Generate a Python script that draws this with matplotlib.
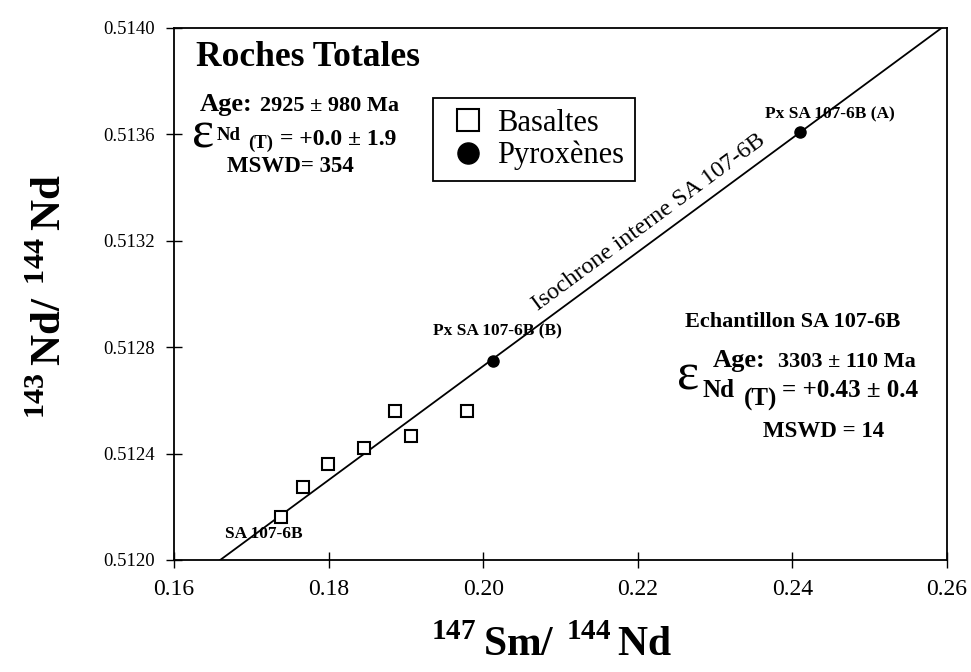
import numpy as np
import matplotlib
matplotlib.use("Agg")
import matplotlib.pyplot as plt

plt.rcParams['font.family'] = ['Liberation Serif', 'DejaVu Serif']
plt.rcParams['mathtext.fontset'] = 'custom'
plt.rcParams['mathtext.rm'] = 'Liberation Serif'
plt.rcParams['mathtext.bf'] = 'Liberation Serif:bold'

# Roches totales (basaltes) : 147Sm/144Nd et 143Nd/144Nd
basaltes_sm = [0.1738, 0.1767, 0.1799, 0.1846, 0.1886, 0.1907, 0.1979]
basaltes_nd = [0.512162, 0.512274, 0.512361, 0.512421, 0.512560, 0.512466, 0.512560]

# Pyroxènes séparés
pyroxenes_sm = [0.2013, 0.2410]
pyroxenes_nd = [0.512748, 0.513609]
pyroxenes_noms = ["Px SA 107-6B (B)", "Px SA 107-6B (A)"]

# Isochrone interne SA 107-6B (pente, ordonnée à l'origine)
iso_pente = 0.021431
iso_origine = 0.508443

x_ticks = [0.16, 0.18, 0.20, 0.22, 0.24, 0.26]
y_ticks = [0.5120, 0.5124, 0.5128, 0.5132, 0.5136, 0.5140]

W, H = 971, 672
fig = plt.figure(figsize=(W / 100, H / 100), dpi=100)
ax = fig.add_axes([174 / W, 112 / H, 773 / W, 532 / H])


def px(x, y):
    # position en pixels de l'image -> fraction des axes
    return (x - 174) / 773, (560 - y) / 532


ax.set_xlim(0.16, 0.26)
ax.set_ylim(0.5120, 0.5140)

xs = np.array([0.16, 0.26])
ax.plot(xs, iso_pente * xs + iso_origine, color='black', lw=1.3)

ax.plot(basaltes_sm, basaltes_nd, 's', color='black', mfc='white', ms=8, mew=1.5,
        label='Basaltes')
ax.plot(pyroxenes_sm, pyroxenes_nd, 'o', color='black', ms=8, label='Pyroxènes')

ax.set_xticks(x_ticks)
ax.set_xticklabels(['0.16', '0.18', '0.20', '0.22', '0.24', '0.26'], fontsize=17)
ax.set_yticks(y_ticks)
ax.set_yticklabels(['%.4f' % v for v in y_ticks], fontsize=13.5)
ax.tick_params(axis='both', direction='inout', length=12, width=1.0)
ax.tick_params(axis='x', pad=8)
ax.tick_params(axis='y', pad=8)
for s in ax.spines.values():
    s.set_linewidth(1.3)

# titres des axes
fig.text(552 / W, 1 - 656 / H, r'$^{\mathbf{147}}\,\mathbf{Sm/}\ ^{\mathbf{144}}\,\mathbf{Nd}$',
         fontsize=30, ha='center', va='baseline')
fig.text(61 / W, 1 - 297 / H, r'$^{\mathbf{143}}\,\mathbf{Nd/}\ ^{\mathbf{144}}\,\mathbf{Nd}$',
         fontsize=31, ha='center', va='baseline', rotation=90, rotation_mode='anchor')

leg = ax.legend(loc='upper left', bbox_to_anchor=px(433, 98), borderaxespad=0,
                fontsize=22, markerscale=1.9, handlelength=1.6, handletextpad=0.15,
                borderpad=0.35, labelspacing=0.1, fancybox=False, edgecolor='black',
                framealpha=1)
leg.get_frame().set_linewidth(1.3)

tr = ax.transAxes
b = dict(transform=tr, fontweight='bold', va='baseline')
# Roches totales
ax.text(*px(196, 66), 'Roches Totales', fontsize=25.5, **b)
ax.text(*px(200, 111), 'Age:', fontsize=19, **b)
ax.text(*px(260, 111), '2925 ± 980 Ma', fontsize=16, **b)
ax.text(*px(192, 147), 'ε', transform=tr, fontsize=38, va='baseline')
ax.text(*px(217, 140), 'Nd', fontsize=13.5, **b)
ax.text(*px(248, 148), '(T)', fontsize=13.5, **b)
ax.text(*px(280, 145), '= +0.0 ± 1.9', fontsize=17, **b)
ax.text(*px(227, 172), 'MSWD= 354', fontsize=16.5, **b)

# Echantillon SA 107-6B
ax.text(*px(685, 327), 'Echantillon SA 107-6B', fontsize=16, **b)
ax.text(*px(713, 367), 'Age:', fontsize=19, **b)
ax.text(*px(778, 367), '3303 ± 110 Ma', fontsize=16, **b)
ax.text(*px(677, 390), 'ε', transform=tr, fontsize=38, va='baseline')
ax.text(*px(702, 397), 'Nd', fontsize=18, **b)
ax.text(*px(744, 406), '(T)', fontsize=18, **b)
ax.text(*px(782, 397), '= +0.43 ± 0.4', fontsize=18, **b)
ax.text(*px(763, 437), 'MSWD = 14', fontsize=16.5, **b)

# étiquettes des échantillons
ax.text(*px(765, 118), pyroxenes_noms[1], fontsize=12.5, **b)
ax.text(*px(433, 335), pyroxenes_noms[0], fontsize=12.5, **b)
ax.text(*px(225, 538), 'SA 107-6B', fontsize=12.5, **b)

# nom de l'isochrone, le long de la droite
fig.canvas.draw()
p1 = ax.transData.transform((0.19, iso_pente * 0.19 + iso_origine))
p2 = ax.transData.transform((0.25, iso_pente * 0.25 + iso_origine))
angle = np.degrees(np.arctan2(p2[1] - p1[1], p2[0] - p1[0]))
xm = 0.2228
ax.annotate('Isochrone interne SA 107-6B', (xm, iso_pente * xm + iso_origine),
            xytext=(-3, 4), textcoords='offset points', rotation=angle,
            rotation_mode='anchor', ha='center', va='bottom', fontsize=17.5)

fig.savefig('out.png', dpi=100)
